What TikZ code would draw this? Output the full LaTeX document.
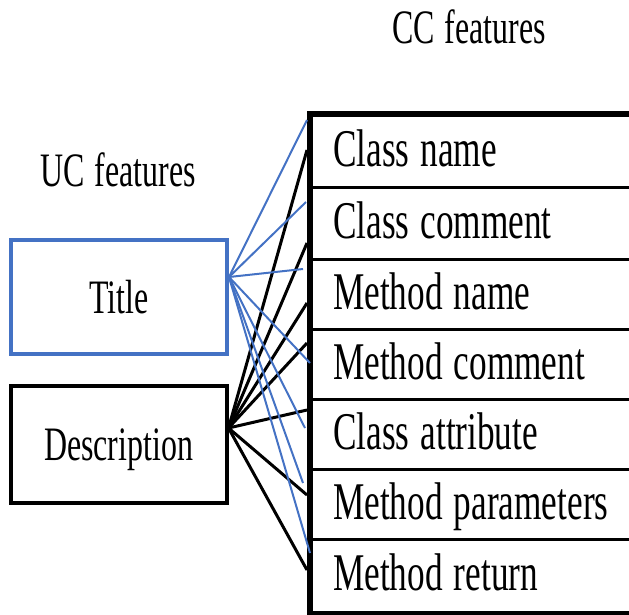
\documentclass[tikz,border=0pt]{standalone}
\usepackage{fontspec}
\setmainfont{Liberation Serif}[FakeStretch=0.665, WordSpace=1.25]
\definecolor{ucblue}{HTML}{4472C4}
\begin{document}
\begin{tikzpicture}[x=1pt,y=-1pt,
  hdr/.style={inner sep=0pt, font=\fontsize{48}{56}\selectfont, text height=32pt, text depth=0pt},
  ucbox/.style={draw, line width=4pt, minimum width=216pt, inner sep=0pt,
    font=\fontsize{48}{56}\selectfont, text height=32pt, text depth=0pt},
  cell/.style={draw, line width=3pt, anchor=north west, minimum width=340pt, inner sep=0pt},
  celltext/.style={anchor=west, inner sep=0pt,
    font=\fontsize{53}{60}\selectfont, text height=35pt, text depth=6pt},
  frame/.style={line width=6pt, line join=miter},
  bluelink/.style={ucblue, line width=2pt},
  blacklink/.style={black, line width=3pt}]
\useasboundingbox (0,0) rectangle (629,614);
\clip (0,0) rectangle (629,614);

% column headers
\node[hdr] (cch) at (469,27) {CC features};
\node[hdr] (uch) at (118,170) {UC features};

% UC feature boxes
\node[ucbox, draw=ucblue, minimum height=114pt] (title) at (119,297) {Title};
\node[ucbox, minimum height=117pt] (desc) at (118.5,444.5) {Description};

% CC feature table: cells, then their labels
\node[cell, minimum height=72pt] (r1) at (310,114) {};
\node[cell, minimum height=72pt] (r2) at (310,186) {};
\node[cell, minimum height=70pt] (r3) at (310,258) {};
\node[cell, minimum height=70pt] (r4) at (310,328) {};
\node[cell, minimum height=70pt] (r5) at (310,398) {};
\node[cell, minimum height=70pt] (r6) at (310,468) {};
\node[cell, minimum height=73pt] (r7) at (310,538) {};
\foreach \i/\txt in {1/Class name,2/Class comment,3/Method name,4/Method comment,
    5/Class attribute,6/Method parameters,7/Method return}
  \node[celltext] (t\i) at ([xshift=23pt]r\i.west) {\txt};
\draw[frame] ([xshift=60pt]r1.north east) -- (r1.north west) -- (r7.south west) -- ([xshift=60pt]r7.south east);

% link origins and ends
\coordinate (ts) at ([yshift=20pt]title.east);
\coordinate (ds) at ([yshift=16.5pt]desc.east);
\foreach \i/\y in {1/150,2/243,3/303,4/343,5/410,6/495,7/570}
  \coordinate (k\i) at (307,\y);
\foreach \i/\x/\y in {1/307/120,2/306/202,3/303/269,4/310/363,5/305/428,6/303/483,7/310/553}
  \coordinate (b\i) at (\x,\y);

% links from Description and Title
\foreach \i in {1,...,7}
  \draw[blacklink] (ds) -- (k\i);
\foreach \i in {1,...,7}
  \draw[bluelink] (ts) -- (b\i);
\end{tikzpicture}
\end{document}
